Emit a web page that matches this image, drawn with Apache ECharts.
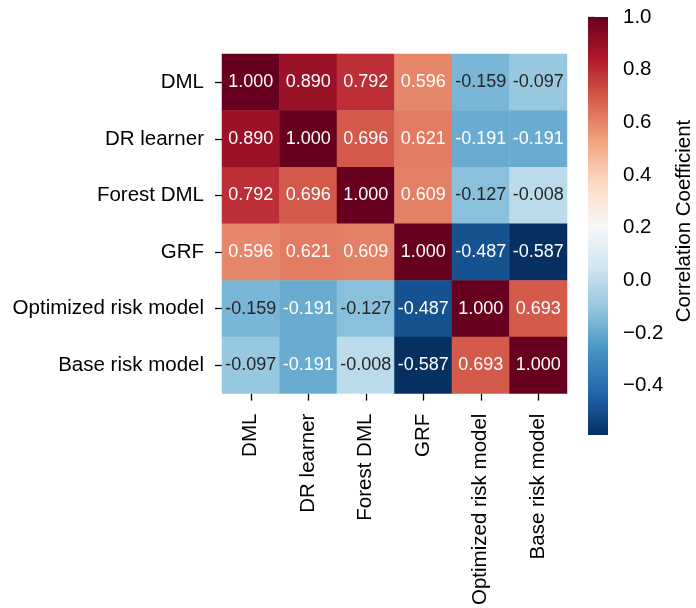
<!DOCTYPE html>
<html>
<head>
<meta charset="utf-8">
<script src="https://cdn.jsdelivr.net/npm/echarts@6/dist/echarts.min.js"></script>
<style>html,body{margin:0;padding:0;background:#fff}#c{width:696px;height:608px}</style>
</head>
<body>
<div id="c"></div>
<script>
const categories = ['DML', 'DR learner', 'Forest DML', 'GRF', 'Optimized risk model', 'Base risk model'];
const rowDML        = [1.000, 0.890, 0.792, 0.596, -0.159, -0.097];
const rowDRLearner  = [0.890, 1.000, 0.696, 0.621, -0.191, -0.191];
const rowForestDML  = [0.792, 0.696, 1.000, 0.609, -0.127, -0.008];
const rowGRF        = [0.596, 0.621, 0.609, 1.000, -0.487, -0.587];
const rowOptRisk    = [-0.159, -0.191, -0.127, -0.487, 1.000, 0.693];
const rowBaseRisk   = [-0.097, -0.191, -0.008, -0.587, 0.693, 1.000];
const colorbarTicks = [-0.4, -0.2, 0.0, 0.2, 0.4, 0.6, 0.8, 1.0];
const vMin = -0.587, vMax = 1.0;

const rows = [rowDML, rowDRLearner, rowForestDML, rowGRF, rowOptRisk, rowBaseRisk];
const palette = ['#053061','#2166ac','#4393c3','#92c5de','#d1e5f0','#f7f7f7','#fddbc7','#f4a582','#d6604d','#b2182b','#67001f'];

function hexToRgb(h){return [parseInt(h.slice(1,3),16),parseInt(h.slice(3,5),16),parseInt(h.slice(5,7),16)];}
function cmap(v){
  let t = (v - vMin) / (vMax - vMin);
  t = Math.max(0, Math.min(1, t)) * (palette.length - 1);
  const i = Math.min(Math.floor(t), palette.length - 2);
  const f = t - i;
  const a = hexToRgb(palette[i]), b = hexToRgb(palette[i+1]);
  return a.map((x,k)=>x + (b[k]-x)*f);
}
function luminance(rgb){
  const c = rgb.map(x=>{x/=255;return x<=0.03928? x/12.92 : Math.pow((x+0.055)/1.055,2.4);});
  return 0.2126*c[0]+0.7152*c[1]+0.0722*c[2];
}

const data = [];
rows.forEach((row, yi) => {
  row.forEach((v, xi) => {
    const lum = luminance(cmap(v));
    data.push({value: [xi, yi, v], label: {color: lum > 0.408 ? '#262626' : '#ffffff'}});
  });
});

const FONT = 'Liberation Sans, Arial, sans-serif';
const FS = 20.5;
const chart = echarts.init(document.getElementById('c'), null, {renderer: 'canvas'});
const gradStops = palette.slice().reverse().map((c, i) => ({offset: i/(palette.length-1), color: c}));

chart.setOption({
  animation: false,
  backgroundColor: '#fff',
  grid: [
    {left: 222, top: 54, width: 345, height: 346},
    {left: 588, top: 17, width: 20, height: 418}
  ],
  xAxis: [
    {type: 'category', data: categories, gridIndex: 0, position: 'bottom',
     axisLine: {show: false},
     axisTick: {show: true, alignWithLabel: true, length: 7, lineStyle: {color: '#000', width: 1.3}},
     axisLabel: {rotate: 90, margin: 20, fontSize: FS, color: '#000', fontFamily: FONT, interval: 0},
     splitArea: {show: false}, splitLine: {show: false}},
    {type: 'value', gridIndex: 1, show: false, min: 0, max: 1}
  ],
  yAxis: [
    {type: 'category', data: categories, gridIndex: 0, inverse: true,
     axisLine: {show: false},
     axisTick: {show: true, alignWithLabel: true, length: 7, lineStyle: {color: '#000', width: 1.3}},
     axisLabel: {margin: 18, fontSize: FS, color: '#000', fontFamily: FONT, interval: 0},
     splitArea: {show: false}, splitLine: {show: false}},
    {type: 'value', gridIndex: 1, position: 'right', min: vMin, max: vMax,
     name: 'Correlation Coefficient', nameLocation: 'middle', nameRotate: 90, nameGap: 71,
     nameTextStyle: {fontSize: FS, color: '#000', fontFamily: FONT, padding: [0, 0, 0, 10]},
     axisLine: {show: false},
     splitLine: {show: false},
     axisTick: {show: true, length: 7, customValues: colorbarTicks, lineStyle: {color: '#000', width: 1.3}},
     axisLabel: {show: true, margin: 20, fontSize: FS, color: '#000', fontFamily: FONT,
       customValues: colorbarTicks,
       formatter: v => v.toFixed(1).replace('-', '\u2212')}}
  ],
  visualMap: {show: false, min: vMin, max: vMax, dimension: 2, seriesIndex: 0,
    inRange: {color: palette}},
  graphic: [{
    type: 'rect', shape: {x: 588, y: 17, width: 20, height: 418},
    style: {fill: new echarts.graphic.LinearGradient(0, 0, 0, 1, gradStops)}, z: 1
  }],
  series: [{
    type: 'heatmap', xAxisIndex: 0, yAxisIndex: 0, data: data,
    label: {show: true, fontSize: 18, fontFamily: FONT, formatter: p => p.value[2].toFixed(3)},
    itemStyle: {borderWidth: 0},
    emphasis: {disabled: true}
  }]
});
</script>
</body>
</html>
